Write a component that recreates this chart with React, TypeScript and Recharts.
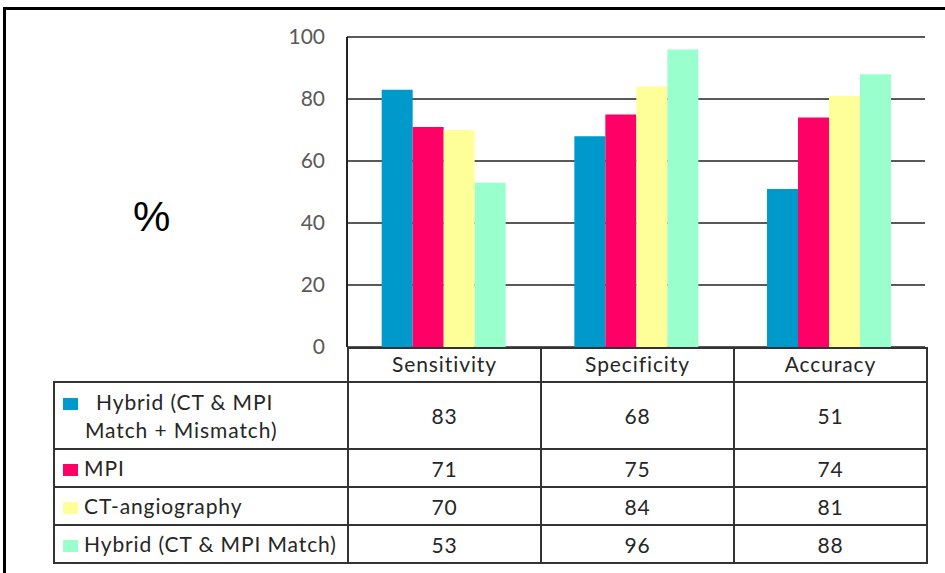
import React from "react";
import {
  BarChart,
  Bar,
  XAxis,
  YAxis,
  CartesianGrid,
} from "recharts";

const categories = ["Sensitivity", "Specificity", "Accuracy"];
const seriesNames = [
  "Hybrid (CT & MPI Match + Mismatch)",
  "MPI",
  "CT-angiography",
  "Hybrid (CT & MPI Match)",
];
const hybridMismatch = [83, 68, 51];
const mpi = [71, 75, 74];
const ctAngio = [70, 84, 81];
const hybridMatch = [53, 96, 88];
const yTicks = [0, 20, 40, 60, 80, 100];

const COLORS = ["#0099cc", "#ff0066", "#ffff99", "#99ffcc"];
const seriesValues = [hybridMismatch, mpi, ctAngio, hybridMatch];
const KEYS = ["s0", "s1", "s2", "s3"];

const data = categories.map((name, i) => ({
  name,
  s0: hybridMismatch[i],
  s1: mpi[i],
  s2: ctAngio[i],
  s3: hybridMatch[i],
}));

const FONT = "Lato, 'Open Sans', sans-serif";
const LINE = "2px solid #333";

// data table drawn under the plot, aligned with the category bands
function DataTable() {
  const rowHeights = [67, 38, 38, 38];
  const cell: React.CSSProperties = {
    border: LINE,
    textAlign: "center",
    padding: 0,
    fontSize: 21,
    letterSpacing: 0.9,
    color: "#262626",
  };
  return (
    <table
      style={{
        position: "absolute",
        left: 53,
        top: 347,
        borderCollapse: "collapse",
        tableLayout: "fixed",
        width: 873,
        fontFamily: FONT,
      }}
    >
      <colgroup>
        <col style={{ width: 294 }} />
        <col style={{ width: 193 }} />
        <col style={{ width: 193 }} />
        <col style={{ width: 193 }} />
      </colgroup>
      <tbody>
        <tr style={{ height: 34 }}>
          <td style={{ border: "none", borderRight: LINE, borderBottom: LINE }} />
          {categories.map((c) => (
            <td key={c} style={{ ...cell, paddingBottom: 4 }}>
              {c}
            </td>
          ))}
        </tr>
        {seriesNames.map((s, r) => (
          <tr key={s} style={{ height: rowHeights[r] }}>
            <td
              style={{
                ...cell,
                textAlign: "left",
                paddingLeft: 8,
                lineHeight: "28px",
                whiteSpace: "nowrap",
              }}
            >
              {r === 0 ? (
                <>
                  <span
                    style={{
                      display: "inline-block",
                      width: 15,
                      height: 12,
                      background: COLORS[r],
                      marginRight: 18,
                    }}
                  />
                  Hybrid (CT &amp; MPI
                  <br />
                  <span style={{ paddingLeft: 22 }}>Match + Mismatch)</span>
                </>
              ) : (
                <>
                  <span
                    style={{
                      display: "inline-block",
                      width: 15,
                      height: 12,
                      background: COLORS[r],
                      marginRight: 6,
                    }}
                  />
                  {s}
                </>
              )}
            </td>
            {seriesValues[r].map((v, i) => (
              <td key={i} style={cell}>
                {v}
              </td>
            ))}
          </tr>
        ))}
      </tbody>
    </table>
  );
}

export default function App() {
  return (
    <div
      style={{
        position: "absolute",
        left: 0,
        top: 0,
        width: 945,
        height: 573,
        background: "#fff",
        overflow: "hidden",
      }}
    >
      <div
        style={{
          position: "absolute",
          left: 3,
          top: 7,
          width: 960,
          height: 600,
          borderTop: "3px solid #000",
          borderLeft: "3px solid #000",
        }}
      />
      <div
        style={{
          position: "absolute",
          left: 133,
          top: 193,
          fontSize: 42,
          fontFamily: "'Liberation Sans', Arial, sans-serif",
          color: "#000",
        }}
      >
        %
      </div>
      <div style={{ position: "absolute", left: 0, top: 0 }}>
        <BarChart
          width={945}
          height={573}
          data={data}
          margin={{ top: 37, right: 20, bottom: 226, left: 287 }}
          barCategoryGap="18%"
          barGap={0}
        >
          <CartesianGrid
            vertical={false}
            stroke="#222"
            strokeWidth={1.5}
          />
          <XAxis
            dataKey="name"
            tick={false}
            height={0}
            axisLine={{ stroke: "#222", strokeWidth: 2 }}
            tickLine={false}
          />
          <YAxis
            domain={[0, 100]}
            ticks={yTicks}
            width={60}
            tickSize={0}
            tickMargin={22}
            axisLine={{ stroke: "#222", strokeWidth: 2 }}
            tickLine={false}
            tick={{ fill: "#595959", fontSize: 21, fontFamily: FONT }}
          />
          <YAxis
            yAxisId="right"
            orientation="right"
            domain={[0, 100]}
            width={0}
            tick={false}
            tickLine={false}
            axisLine={{ stroke: "#222", strokeWidth: 2 }}
          />
          {KEYS.map((k, i) => (
            <Bar
              key={k}
              dataKey={k}
              name={seriesNames[i]}
              fill={COLORS[i]}
              isAnimationActive={false}
            />
          ))}
        </BarChart>
      </div>
      <DataTable />
    </div>
  );
}
